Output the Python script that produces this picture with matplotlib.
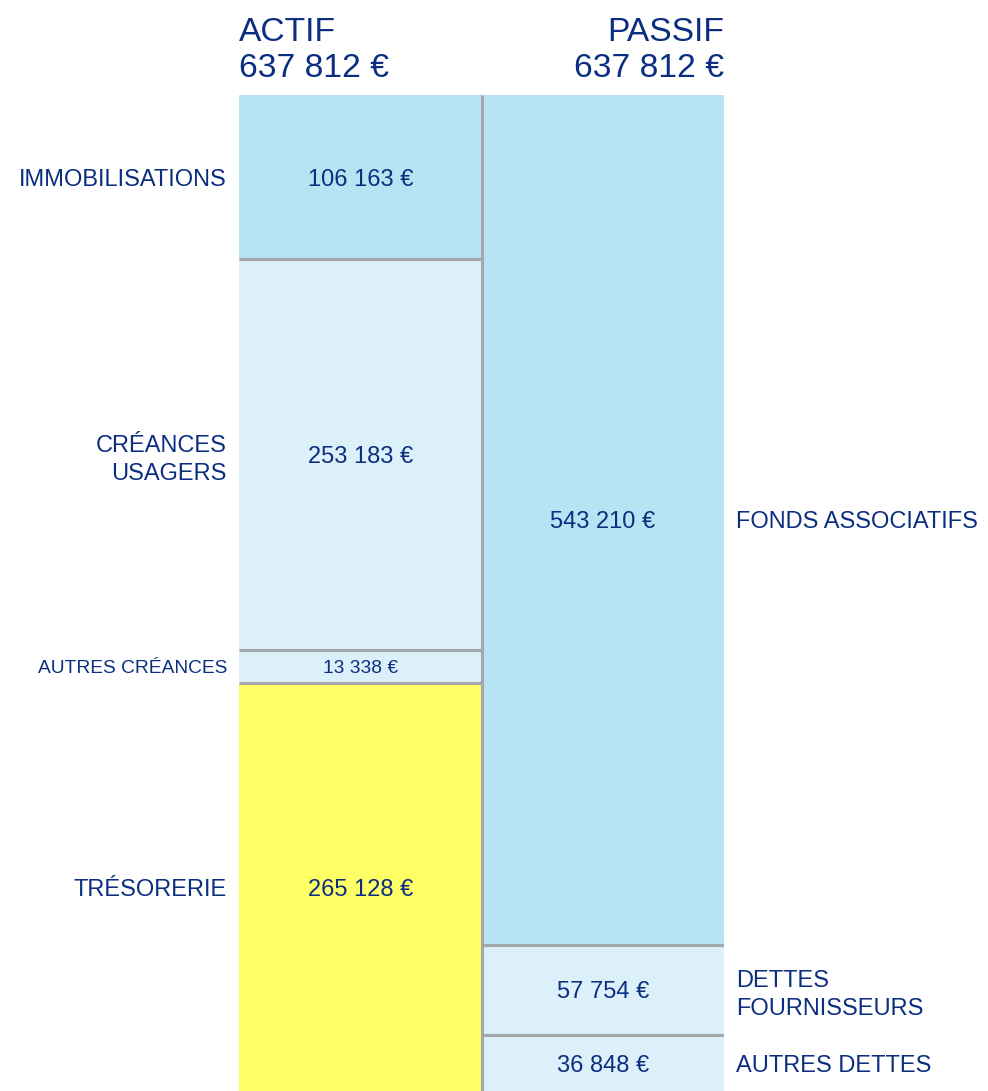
import matplotlib
matplotlib.use("Agg")
import matplotlib.pyplot as plt
from matplotlib import font_manager

# ---------------- data ----------------
actif_labels = ["IMMOBILISATIONS", "CRÉANCES\nUSAGERS", "AUTRES CRÉANCES", "TRÉSORERIE"]
actif_values = [106163, 253183, 13338, 265128]
passif_labels = ["FONDS ASSOCIATIFS", "DETTES\nFOURNISSEURS", "AUTRES DETTES"]
passif_values = [543210, 57754, 36848]
headers = ["ACTIF", "PASSIF"]

# ---------------- style ----------------
TEXT = "#0B2E80"
GRID = "#A6A7AD"
actif_colors = ["#B8E3F2", "#DCF0F9", "#DCF0F9", "#FFFF66"]
passif_colors = ["#B8E3F2", "#DCF0F9", "#DCF0F9"]
MIN_SHARE = 0.0335  # minimum displayed share of a segment

avail = {f.name for f in font_manager.fontManager.ttflist}
fam = [f for f in ["Liberation Sans Narrow", "Liberation Sans", "DejaVu Sans"] if f in avail]
plt.rcParams["font.family"] = fam


def fmt(v):
    return f"{v:,}".replace(",", " ") + " €"


W, H = 988, 1091
fig = plt.figure(figsize=(W / 100, H / 100), dpi=100)
ax_left, ax_right, ax_top = 239, 724, 95
ax = fig.add_axes([ax_left / W, 0, (ax_right - ax_left) / W, (H - ax_top) / H])
ax.set_axis_off()

total_a = sum(actif_values)
disp_a = [max(v, MIN_SHARE * total_a) for v in actif_values]
tot_disp = sum(disp_a)
factor = tot_disp / sum(passif_values)
disp_p = [v * factor for v in passif_values]

px_per_eur = 164 / actif_values[0]
ax.set_xlim(0, 2)
ax.set_ylim((H - ax_top) / px_per_eur, 0)

lw = 2.2
FS_BIG, FS_SMALL, FS_HEAD = 17, 13.8, 24.2


def draw_column(x0, disp, vals, labels, colors, side, small_idx):
    y = 0
    for i, (d, v, lab, c) in enumerate(zip(disp, vals, labels, colors)):
        ax.bar(x0 + 0.5, d, bottom=y, width=1.0, color=c, edgecolor="none", zorder=1)
        if i > 0:
            ax.plot([x0, x0 + 1], [y, y], color=GRID, lw=lw, zorder=3, solid_capstyle="butt")
        fs = FS_SMALL if i in small_idx else FS_BIG
        ax.text(x0 + 0.5, y + d / 2, fmt(v), ha="center", va="center_baseline",
                color=TEXT, fontsize=fs, zorder=4)
        if side == "left":
            ax.text(-0.05, y + d / 2, lab, ha="right", va="center_baseline", color=TEXT,
                    fontsize=fs, linespacing=1.35, clip_on=False)
        else:
            ax.text(2.05, y + d / 2, lab, ha="left", va="center_baseline", color=TEXT,
                    fontsize=fs, linespacing=1.35, clip_on=False)
        y += d


draw_column(0, disp_a, actif_values, actif_labels, actif_colors, "left",
            [i for i, v in enumerate(actif_values) if v < MIN_SHARE * total_a])
draw_column(1, disp_p, passif_values, passif_labels, passif_colors, "right", [])

# middle vertical separator
ax.plot([1, 1], [0, ax.get_ylim()[0]], color=GRID, lw=lw, zorder=3, solid_capstyle="butt")

# headers
fig.text(ax_left / W, 1 - 41 / H, headers[0], ha="left", va="baseline", color=TEXT, fontsize=FS_HEAD)
fig.text(ax_left / W, 1 - 77 / H, fmt(total_a), ha="left", va="baseline", color=TEXT, fontsize=FS_HEAD)
fig.text(ax_right / W, 1 - 41 / H, headers[1], ha="right", va="baseline", color=TEXT, fontsize=FS_HEAD)
fig.text(ax_right / W, 1 - 77 / H, fmt(sum(passif_values)), ha="right", va="baseline", color=TEXT, fontsize=FS_HEAD)

fig.savefig("out.png", dpi=100, facecolor="white")
